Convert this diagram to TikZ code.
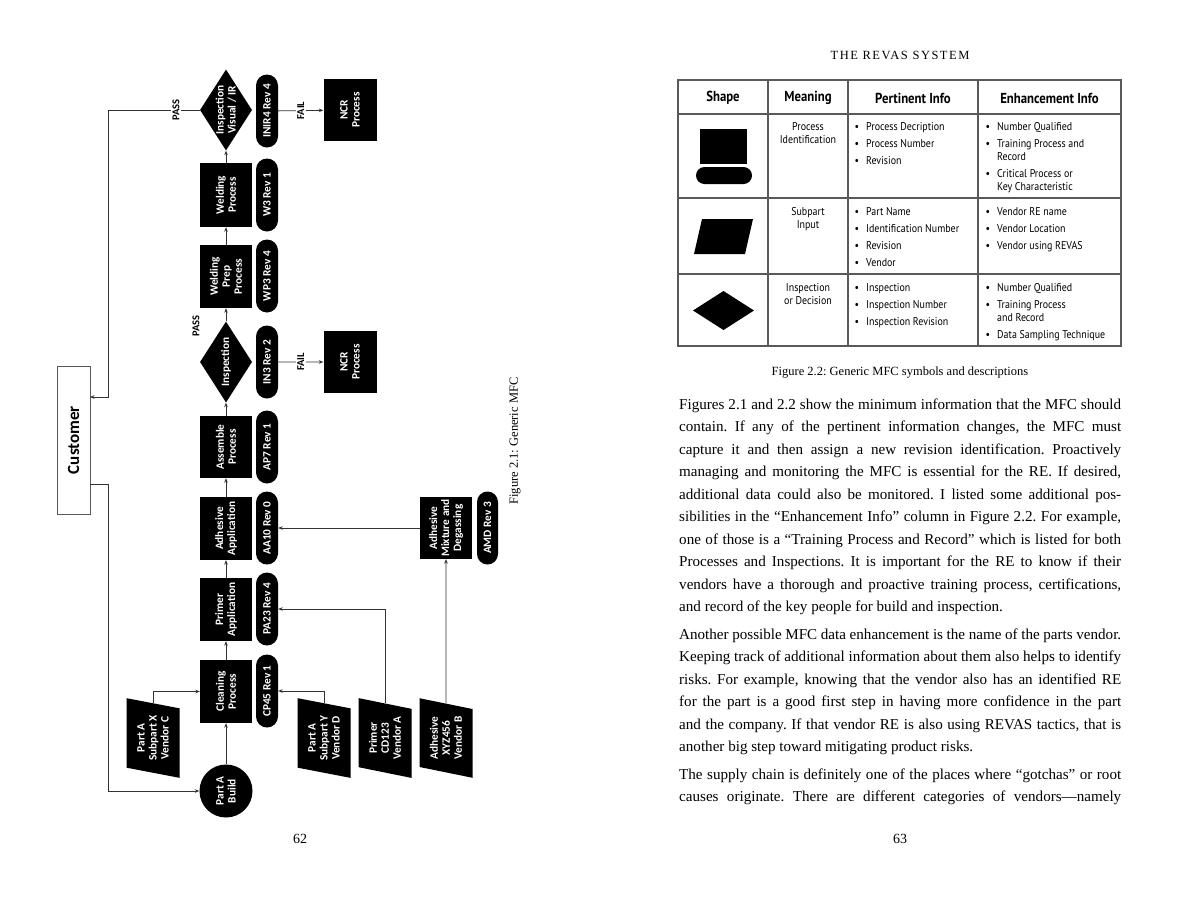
\documentclass[tikz,border=0pt]{standalone}
\usepackage{fontspec}
\setmainfont{Liberation Serif}
\newfontfamily\flowfont{Carlito}
\newfontfamily\tabfont[FakeStretch=0.88]{PT Sans}
\newfontfamily\capsfont[LetterSpace=12]{Liberation Serif}
\usetikzlibrary{shapes.geometric,shapes.misc,arrows.meta}
\frenchspacing
\tikzset{
  flow/.style={font=\flowfont\bfseries\fontsize{11.3}{12}\selectfont, text=white, fill=black, align=center, rotate=90, inner sep=1pt},
  proc/.style={flow, rectangle, minimum width=63, minimum height=52},
  pill/.style={flow, rounded rectangle, minimum width=73, minimum height=22, inner sep=0pt},
  dec/.style={flow, diamond, shape aspect=1.6, inner sep=-4pt, minimum width=81, minimum height=52},
  inp/.style={flow, trapezium, trapezium left angle=76, trapezium right angle=104, trapezium stretches=true, minimum width=80, minimum height=53, inner sep=0pt},
  startnode/.style={flow, circle, minimum size=53, inner sep=0pt},
  custbox/.style={rectangle, draw=black!65, line width=1, fill=white, rotate=90, minimum width=148, minimum height=33, font=\flowfont\bfseries\fontsize{17}{19}\selectfont},
  lbl/.style={font=\flowfont\bfseries\fontsize{10.5}{11}\selectfont, rotate=90, fill=white, inner sep=1.5pt},
  conn/.style={draw=black!80, line width=0.8, -{Stealth[length=4.5pt,width=3.6pt]}},
  tabline/.style={draw=black!65, line width=1.2},
  tabhead/.style={font=\tabfont\bfseries\fontsize{14.5}{16}\selectfont, inner sep=0pt},
  tabtxt/.style={font=\tabfont\fontsize{11.3}{13}\selectfont, inner sep=0pt, anchor=base west},
  tabmid/.style={font=\tabfont\fontsize{11.3}{13}\selectfont, inner sep=0pt, anchor=base},
  body/.style={font=\fontsize{15.1}{18}\selectfont, inner sep=0pt, anchor=base west},
  serifsm/.style={font=\fontsize{12.5}{14}\selectfont, inner sep=0pt},
}
\newcommand{\jl}[1]{\makebox[442pt][s]{#1}}
\begin{document}
\begin{tikzpicture}[x=1pt,y=-1pt]
\useasboundingbox[fill=white] (0,0) rectangle (1200,900);

% ---------------- left page: flowchart ----------------
\node[dec]  (insp2) at (226,110) {Inspection\\Visual / IR};
\node[pill] (inir4) at (267,111) {INIR4 Rev 4};
\node[proc, minimum width=62, minimum height=53] (ncr2) at (350,110) {NCR\\Process};

\node[proc, minimum width=64] (weld) at (226,195) {Welding\\Process};
\node[pill] (w3) at (267,195) {W3 Rev 1};

\node[proc] (prep) at (226,276.5) {Welding\\Prep\\Process};
\node[pill] (wp3) at (267,276) {WP3 Rev 4};

\node[dec]  (insp1) at (226,362) {Inspection};
\node[pill] (in3) at (267,362) {IN3 Rev 2};
\node[proc, minimum width=62, minimum height=53] (ncr1) at (350,362) {NCR\\Process};

\node[proc, minimum width=62] (asm) at (226,447) {Assemble\\Process};
\node[pill] (ap7) at (267,447) {AP7 Rev 1};

\node[proc] (adh) at (226,528.5) {Adhesive\\Application};
\node[pill] (aa10) at (267,528) {AA10 Rev 0};

\node[proc] (prim) at (226,609.5) {Primer\\Application};
\node[pill] (pa23) at (267,609) {PA23 Rev 4};

\node[proc] (clean) at (226,691.5) {Cleaning\\Process};
\node[pill] (cp45) at (267,691) {CP45 Rev 1};

\node[startnode] (build) at (226,791) {Part A\\Build};

\node[inp] (subX)   at (153,738) {Part A\\Subpart X\\Vendor C};
\node[inp] (subY)   at (324,738) {Part A\\Subpart Y\\Vendor D};
\node[inp] (primer) at (385,738) {Primer\\CD123\\Vendor A};
\node[inp] (adhB)   at (446,738) {Adhesive\\XYZ456\\Vendor B};

\node[proc, minimum width=62, inner sep=0pt] (mix) at (446,528) {Adhesive\\Mixture and\\Degassing};
\node[pill, minimum height=21] (amd) at (487.5,528) {AMD Rev 3};

\node[custbox] (cust) at (73.5,440) {Customer};

\coordinate (jA) at (108,110);
\coordinate (custIn) at (90,397);
\coordinate (custOut) at (90,484);
\coordinate (jB) at (108,484);

\draw[conn] (build) -- (clean);
\draw[conn] (clean) -- (prim);
\draw[conn] (prim) -- (adh);
\draw[conn] (adh) -- (asm);
\draw[conn] (asm) -- (insp1);
\draw[conn] (insp1) -- (prep);
\draw[conn] (prep) -- (weld);
\draw[conn] (weld) -- (insp2);
\draw[conn] (in3) -- node[lbl] (fail1) {FAIL} (ncr1);
\draw[conn] (inir4) -- node[lbl] (fail2) {FAIL} (ncr2);
\draw[conn] (subX) |- (clean);
\draw[conn] (subY) |- (cp45);
\draw[conn] (primer) |- (pa23);
\draw[conn] (adhB) -- (mix);
\draw[conn] (mix) -- (aa10);
\draw[conn] (insp2.north) -- node[lbl,pos=0.26] (pass2) {PASS} (jA) |- (custIn);
\draw[conn] (custOut) -- (jB) |- (build);
\node[lbl, fill=none] (pass1) at (196,326) {PASS};

\node[serifsm, rotate=90] (cap1) at (515,441) {Figure 2.1: Generic MFC};
\node[font=\fontsize{14}{16}\selectfont, inner sep=0pt, anchor=base] (pg62) at (300,843) {62};

% ---------------- right page ----------------
\node[font=\capsfont\fontsize{12.5}{14}\selectfont, inner sep=0pt, anchor=base] (hdr) at (900,59.5) {THE REVAS SYSTEM};

% table grid
\draw[tabline] (678,80) rectangle (1121,346);
\draw[tabline] (678,114) -- (1121,114);
\draw[tabline] (678,198) -- (1121,198);
\draw[tabline] (678,274) -- (1121,274);
\draw[tabline] (768,80) -- (768,346);
\draw[tabline] (848,80) -- (848,346);
\draw[tabline] (978,80) -- (978,346);

\node[tabhead] (h1) at (723,98) {Shape};
\node[tabhead] (h2) at (808,98) {Meaning};
\node[tabhead] (h3) at (913,98) {Pertinent Info};
\node[tabhead] (h4) at (1049.5,98) {Enhancement Info};

% symbols
\fill (700,129) rectangle (747,164);
\fill[rounded corners=8.5] (696,167) rectangle (752,184);
\fill (702,219) -- (753,219) -- (745,254) -- (694,254) -- cycle;
\fill (693,310.5) -- (723.5,291) -- (754,310.5) -- (723.5,330) -- cycle;

% meaning column
\node[tabmid] (m1a) at (808,130) {Process};
\node[tabmid] (m1b) at (808,143) {Identification};
\node[tabmid] (m2a) at (808,215) {Subpart};
\node[tabmid] (m2b) at (808,228) {Input};
\node[tabmid] (m3a) at (808,291) {Inspection};
\node[tabmid] (m3b) at (808,304) {or Decision};

% pertinent column
\foreach \yy/\tt [count=\i] in {130/Process Decription, 147/Process Number, 164/Revision,
   215/Part Name, 232/Identification Number, 249/Revision, 266/Vendor,
   291/Inspection, 308/Inspection Number, 325/Inspection Revision}{
  \node[tabtxt] (pb\i) at (854.5,\yy) {•};
  \node[tabtxt] (pt\i) at (866,\yy) {\tt};
}
% enhancement column (bullets)
\foreach \yy/\tt [count=\i] in {130/Number Qualified, 147/Training Process and, 177/Critical Process or,
   215/Vendor RE name, 232/Vendor Location, 249/Vendor using REVAS,
   291/Number Qualified, 308/Training Process, 338/Data Sampling Technique}{
  \node[tabtxt] (eb\i) at (985.5,\yy) {•};
  \node[tabtxt] (et\i) at (997,\yy) {\tt};
}
\node[tabtxt] (ec1) at (997,160.5) {Record};
\node[tabtxt] (ec2) at (997,190.5) {Key Characteristic};
\node[tabtxt] (ec3) at (997,321.5) {and Record};

\node[serifsm, anchor=base] (cap2) at (900,375.5) {Figure 2.2: Generic MFC symbols and descriptions};

% body text
\node[body] (p1l1)  at (679,409)   {\jl{Figures 2.1 and 2.2 show the minimum information that the MFC should}};
\node[body] (p1l2)  at (679,431.5) {\jl{contain. If any of the pertinent information changes, the MFC must}};
\node[body] (p1l3)  at (679,454)   {\jl{capture it and then assign a new revision identification. Proactively}};
\node[body] (p1l4)  at (679,476.5) {\jl{managing and monitoring the MFC is essential for the RE. If desired,}};
\node[body] (p1l5)  at (679,499)   {\jl{additional data could also be monitored. I listed some additional pos-}};
\node[body] (p1l6)  at (679,521.5) {\jl{sibilities in the “Enhancement Info” column in Figure 2.2. For example,}};
\node[body] (p1l7)  at (679,544)   {\jl{one of those is a “Training Process and Record” which is listed for both}};
\node[body] (p1l8)  at (679,566.5) {\jl{Processes and Inspections. It is important for the RE to know if their}};
\node[body] (p1l9)  at (679,589)   {\jl{vendors have a thorough and proactive training process, certifications,}};
\node[body] (p1l10) at (679,611.5) {and record of the key people for build and inspection.};

\node[body] (p2l1) at (679,639)   {\jl{Another possible MFC data enhancement is the name of the parts vendor.}};
\node[body] (p2l2) at (679,661.5) {\jl{Keeping track of additional information about them also helps to identify}};
\node[body] (p2l3) at (679,684)   {\jl{risks. For example, knowing that the vendor also has an identified RE}};
\node[body] (p2l4) at (679,706.5) {\jl{for the part is a good first step in having more confidence in the part}};
\node[body] (p2l5) at (679,729)   {\jl{and the company. If that vendor RE is also using REVAS tactics, that is}};
\node[body] (p2l6) at (679,751.5) {another big step toward mitigating product risks.};

\node[body] (p3l1) at (679,779)   {\jl{The supply chain is definitely one of the places where “gotchas” or root}};
\node[body] (p3l2) at (679,801.5) {\jl{causes originate. There are different categories of vendors—namely}};

\node[font=\fontsize{14}{16}\selectfont, inner sep=0pt, anchor=base] (pg63) at (900,843) {63};
\end{tikzpicture}
\end{document}
